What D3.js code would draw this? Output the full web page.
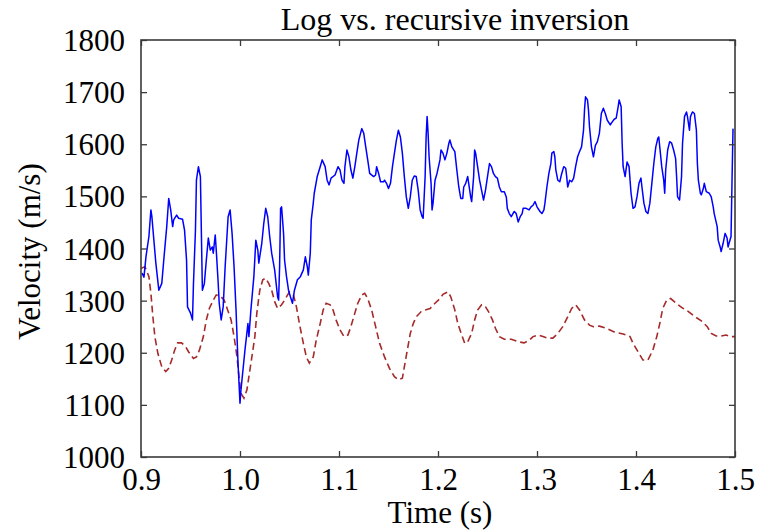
<!DOCTYPE html>
<html>
<head>
<meta charset="utf-8">
<script src="https://cdn.jsdelivr.net/npm/d3@7"></script>
<style>
  html, body { margin: 0; padding: 0; background: #fff; }
  svg { display: block; }
  text { font-family: "Liberation Serif", "Times New Roman", serif; fill: #000; }
</style>
</head>
<body>
<script>
const chartTitle = "Log vs. recursive inversion";
const xLabel = "Time (s)";
const yLabel = "Velocity (m/s)";
const xTicks = [0.9, 1.0, 1.1, 1.2, 1.3, 1.4, 1.5];
const yTicks = [1000, 1100, 1200, 1300, 1400, 1500, 1600, 1700, 1800];

// Log velocity (blue, solid): [time, velocity]
const logSeries = [
[0.901,1353],[0.903,1345],[0.905,1384],[0.908,1423],[0.910,1474],[0.911,1461],[0.913,1416],[0.915,1372],[0.918,1320],[0.921,1333],
[0.923,1378],[0.926,1442],[0.928,1496],[0.930,1474],[0.932,1442],[0.933,1455],[0.936,1464],[0.938,1458],[0.942,1456],[0.944,1435],
[0.946,1378],[0.947,1288],[0.950,1276],[0.952,1263],[0.953,1333],[0.955,1435],[0.956,1531],[0.958,1557],[0.960,1538],[0.961,1429],
[0.962,1320],[0.964,1333],[0.966,1378],[0.968,1420],[0.970,1397],[0.972,1403],[0.973,1391],[0.975,1426],[0.976,1397],[0.978,1333],
[0.979,1295],[0.981,1263],[0.983,1288],[0.985,1365],[0.988,1461],[0.990,1474],[0.992,1429],[0.994,1365],[0.996,1282],[0.998,1180],
[1.000,1103],[1.001,1129],[1.003,1167],[1.005,1205],[1.008,1256],[1.009,1231],[1.011,1282],[1.014,1346],[1.016,1416],[1.018,1397],
[1.019,1372],[1.022,1410],[1.024,1448],[1.026,1477],[1.028,1461],[1.030,1423],[1.032,1391],[1.035,1359],[1.038,1307],[1.039,1301],
[1.040,1365],[1.041,1477],[1.042,1480],[1.044,1429],[1.045,1378],[1.047,1346],[1.049,1320],[1.051,1307],[1.053,1295],[1.055,1320],
[1.058,1340],[1.061,1346],[1.064,1359],[1.066,1384],[1.068,1365],[1.069,1349],[1.071,1391],[1.072,1455],[1.074,1487],[1.075,1506],
[1.078,1538],[1.081,1557],[1.083,1570],[1.086,1557],[1.088,1531],[1.090,1522],[1.092,1535],[1.096,1541],[1.099,1557],[1.101,1551],
[1.103,1531],[1.105,1525],[1.106,1557],[1.108,1589],[1.110,1576],[1.112,1551],[1.114,1535],[1.116,1557],[1.118,1583],[1.120,1608],
[1.123,1630],[1.125,1621],[1.127,1595],[1.129,1570],[1.131,1544],[1.135,1538],[1.137,1541],[1.138,1557],[1.140,1544],[1.142,1528],
[1.145,1528],[1.146,1531],[1.148,1525],[1.150,1515],[1.152,1525],[1.154,1557],[1.156,1583],[1.158,1608],[1.160,1627],[1.162,1614],
[1.164,1583],[1.166,1538],[1.168,1499],[1.170,1477],[1.172,1499],[1.174,1531],[1.176,1539],[1.178,1538],[1.180,1512],[1.182,1474],
[1.184,1461],[1.185,1458],[1.187,1538],[1.188,1614],[1.189,1653],[1.190,1621],[1.191,1576],[1.193,1525],[1.194,1474],[1.195,1487],
[1.197,1531],[1.199,1544],[1.202,1570],[1.203,1589],[1.205,1583],[1.207,1570],[1.209,1583],[1.211,1602],[1.212,1608],[1.214,1595],
[1.217,1586],[1.219,1551],[1.221,1518],[1.223,1496],[1.225,1496],[1.226,1518],[1.228,1525],[1.230,1538],[1.232,1512],[1.233,1499],
[1.234,1490],[1.236,1538],[1.237,1589],[1.238,1583],[1.240,1557],[1.242,1531],[1.244,1512],[1.246,1493],[1.248,1512],[1.250,1538],
[1.252,1563],[1.254,1557],[1.256,1544],[1.258,1538],[1.260,1535],[1.262,1518],[1.264,1509],[1.267,1509],[1.269,1499],[1.270,1477],
[1.272,1467],[1.274,1461],[1.277,1471],[1.279,1467],[1.281,1451],[1.283,1461],[1.285,1467],[1.286,1477],[1.289,1477],[1.292,1474],
[1.294,1480],[1.296,1483],[1.298,1490],[1.300,1480],[1.303,1471],[1.305,1467],[1.307,1474],[1.308,1487],[1.310,1518],[1.312,1544],
[1.314,1563],[1.315,1583],[1.317,1586],[1.318,1576],[1.319,1551],[1.321,1531],[1.323,1528],[1.325,1544],[1.327,1557],[1.329,1554],
[1.330,1538],[1.331,1518],[1.333,1531],[1.335,1528],[1.337,1535],[1.339,1557],[1.341,1576],[1.343,1586],[1.345,1595],[1.347,1627],
[1.348,1666],[1.349,1691],[1.351,1685],[1.352,1666],[1.353,1634],[1.355,1595],[1.357,1576],[1.359,1598],[1.361,1605],[1.363,1621],
[1.365,1659],[1.367,1669],[1.369,1659],[1.371,1646],[1.374,1637],[1.376,1643],[1.378,1648],[1.380,1650],[1.382,1672],[1.383,1685],
[1.385,1672],[1.386,1602],[1.387,1557],[1.389,1538],[1.391,1566],[1.393,1557],[1.394,1531],[1.395,1506],[1.397,1477],[1.399,1480],
[1.401,1499],[1.403,1525],[1.405,1535],[1.406,1518],[1.408,1487],[1.410,1471],[1.412,1467],[1.414,1487],[1.416,1525],[1.418,1563],
[1.420,1595],[1.422,1611],[1.423,1614],[1.424,1595],[1.426,1557],[1.428,1531],[1.429,1506],[1.430,1551],[1.432,1589],[1.434,1605],
[1.436,1602],[1.438,1589],[1.440,1573],[1.441,1538],[1.442,1499],[1.444,1493],[1.446,1538],[1.447,1602],[1.449,1653],[1.451,1662],
[1.452,1653],[1.454,1627],[1.455,1653],[1.457,1662],[1.459,1659],[1.461,1627],[1.462,1563],[1.463,1531],[1.465,1506],[1.466,1503],
[1.468,1515],[1.469,1525],[1.471,1509],[1.474,1506],[1.476,1499],[1.478,1480],[1.479,1467],[1.482,1442],[1.483,1416],[1.485,1403],
[1.486,1394],[1.488,1410],[1.490,1429],[1.492,1420],[1.493,1403],[1.494,1410],[1.496,1423],[1.497,1531],[1.498,1630]
];

// Recursive inversion (brown, dashed): [time, velocity]
const recursiveSeries = [
[0.900,1362],[0.904,1365],[0.908,1346],[0.910,1314],[0.912,1269],[0.914,1231],[0.917,1199],[0.921,1173],[0.925,1164],[0.928,1170],
[0.931,1186],[0.934,1205],[0.937,1219],[0.941,1219],[0.945,1212],[0.948,1202],[0.953,1189],[0.956,1192],[0.959,1205],[0.963,1231],
[0.966,1263],[0.969,1285],[0.973,1301],[0.976,1311],[0.981,1307],[0.984,1301],[0.987,1285],[0.991,1263],[0.994,1231],[0.997,1192],
[0.999,1154],[1.001,1122],[1.004,1113],[1.007,1129],[1.009,1154],[1.012,1192],[1.015,1231],[1.017,1276],[1.020,1320],[1.023,1340],
[1.026,1343],[1.029,1333],[1.032,1320],[1.035,1298],[1.038,1285],[1.042,1292],[1.045,1301],[1.050,1317],[1.054,1311],[1.057,1288],
[1.060,1256],[1.064,1218],[1.067,1192],[1.070,1180],[1.074,1192],[1.077,1224],[1.081,1256],[1.084,1282],[1.087,1295],[1.091,1292],
[1.094,1282],[1.097,1263],[1.101,1244],[1.105,1231],[1.109,1234],[1.112,1250],[1.116,1276],[1.119,1295],[1.123,1311],[1.126,1314],
[1.129,1304],[1.133,1282],[1.137,1250],[1.141,1218],[1.146,1192],[1.151,1170],[1.156,1154],[1.160,1148],[1.164,1151],[1.166,1173],
[1.169,1205],[1.172,1237],[1.175,1256],[1.178,1269],[1.183,1279],[1.187,1282],[1.192,1285],[1.197,1295],[1.202,1304],[1.205,1312],
[1.210,1317],[1.213,1307],[1.217,1282],[1.220,1256],[1.224,1234],[1.227,1218],[1.230,1221],[1.234,1237],[1.237,1263],[1.240,1282],
[1.244,1292],[1.248,1288],[1.251,1279],[1.255,1263],[1.258,1247],[1.262,1231],[1.267,1226],[1.274,1226],[1.281,1221],[1.287,1219],
[1.292,1224],[1.296,1231],[1.301,1234],[1.306,1231],[1.311,1228],[1.316,1228],[1.321,1237],[1.326,1250],[1.331,1269],[1.335,1285],
[1.339,1292],[1.343,1282],[1.348,1263],[1.353,1253],[1.357,1250],[1.363,1251],[1.370,1247],[1.378,1240],[1.387,1236],[1.394,1231],
[1.397,1218],[1.402,1202],[1.407,1186],[1.412,1186],[1.417,1205],[1.421,1231],[1.424,1256],[1.427,1285],[1.431,1301],[1.435,1304],
[1.440,1296],[1.446,1287],[1.453,1279],[1.459,1270],[1.466,1261],[1.472,1250],[1.476,1237],[1.481,1232],[1.486,1232],[1.491,1234],
[1.496,1231],[1.500,1231]
];

const W = 758, H = 531;
const margin = { left: 141, right: 23, top: 40, bottom: 74 };

const svg = d3.select("body").append("svg").attr("width", W).attr("height", H);

const x = d3.scaleLinear().domain([0.9, 1.5]).range([margin.left, W - margin.right]);
const y = d3.scaleLinear().domain([1000, 1800]).range([H - margin.bottom, margin.top]);

const FS = 31;
const FS_TITLE = 32;
const FONT = '"Liberation Serif", "Times New Roman", serif';
const axisColor = "#3a3a3a";

svg.append("clipPath").attr("id", "plotclip").append("rect")
  .attr("x", x(0.9)).attr("y", y(1800))
  .attr("width", x(1.5) - x(0.9)).attr("height", y(1000) - y(1800));

const line = d3.line().x(d => x(d[0])).y(d => y(d[1]));

const plot = svg.append("g").attr("clip-path", "url(#plotclip)");
plot.append("path").datum(recursiveSeries)
  .attr("d", line).attr("fill", "none")
  .attr("stroke", "#a52a2a").attr("stroke-width", 1.6)
  .attr("stroke-dasharray", "7,4");
plot.append("path").datum(logSeries)
  .attr("d", line).attr("fill", "none")
  .attr("stroke", "#0000ff").attr("stroke-width", 1.5)
  .attr("stroke-linejoin", "round");

function styleAxis(g) {
  g.attr("font-family", FONT);
  g.select(".domain").remove();
  g.selectAll(".tick line").attr("stroke", axisColor).attr("stroke-width", 1.3);
  g.selectAll("text").style("font-family", FONT)
    .style("font-size", FS + "px").attr("fill", "#000");
}

const gx = svg.append("g").attr("transform", `translate(0,${y(1000)})`)
  .call(d3.axisBottom(x).tickValues(xTicks).tickSize(-6).tickPadding(12).tickFormat(d3.format(".1f")));
styleAxis(gx);
gx.selectAll("text").attr("y", 33).attr("dy", null);

const gxTop = svg.append("g").attr("transform", `translate(0,${y(1800)})`)
  .call(d3.axisTop(x).tickValues(xTicks).tickSize(-6).tickFormat(""));
styleAxis(gxTop);

const gy = svg.append("g").attr("transform", `translate(${x(0.9)},0)`)
  .call(d3.axisLeft(y).tickValues(yTicks).tickSize(-6).tickPadding(16).tickFormat(d3.format("d")));
styleAxis(gy);
gy.selectAll("text").attr("x", -16).attr("dy", "0.34em");

const gyRight = svg.append("g").attr("transform", `translate(${x(1.5)},0)`)
  .call(d3.axisRight(y).tickValues(yTicks).tickSize(-6).tickFormat(""));
styleAxis(gyRight);

svg.append("rect")
  .attr("x", x(0.9)).attr("y", y(1800))
  .attr("width", x(1.5) - x(0.9)).attr("height", y(1000) - y(1800))
  .attr("fill", "none").attr("stroke", axisColor).attr("stroke-width", 1.6);

svg.append("text").attr("x", 455).attr("y", 30).attr("text-anchor", "middle")
  .style("font-family", FONT).style("font-size", FS_TITLE + "px").text(chartTitle);
svg.append("text").attr("x", 440).attr("y", 523).attr("text-anchor", "middle")
  .style("font-family", FONT).style("font-size", FS + "px").text(xLabel);
svg.append("text").attr("transform", `translate(40,${(y(1000) + y(1800)) / 2 + 3}) rotate(-90)`)
  .attr("text-anchor", "middle").style("font-family", FONT).style("font-size", FS + "px").text(yLabel);
</script>
</body>
</html>
